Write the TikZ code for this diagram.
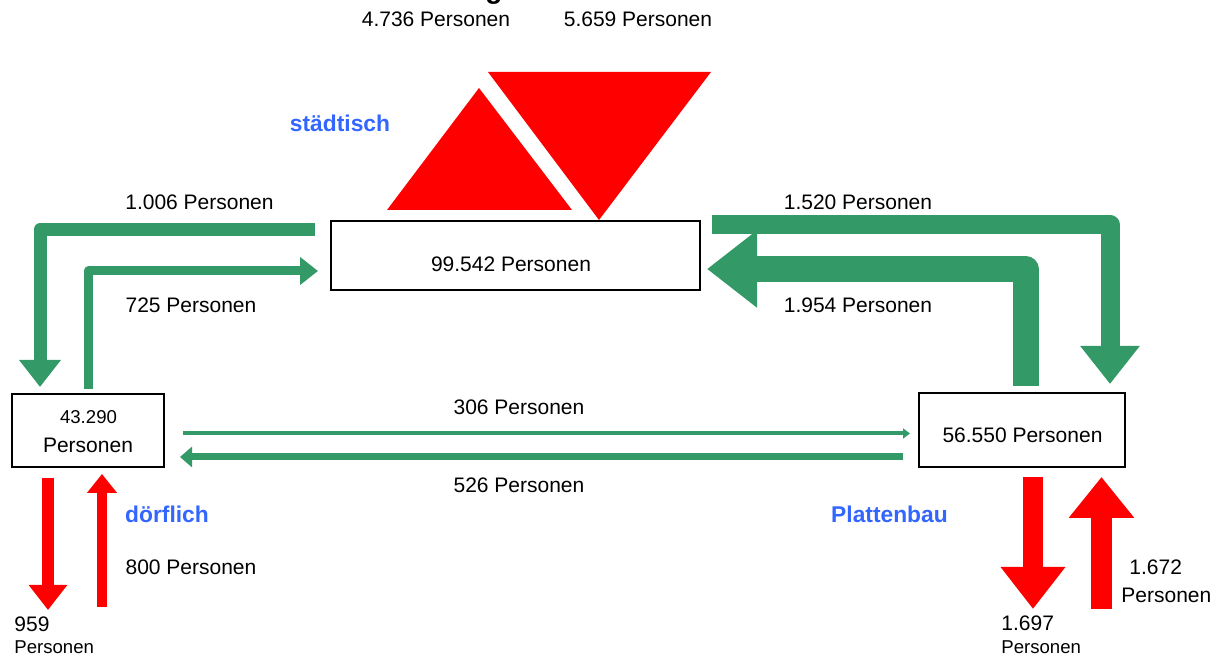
\documentclass[tikz,border=0pt]{standalone}
\usepackage{fontspec}
\setmainfont{Liberation Sans}
\usepackage{tikz}
\usetikzlibrary{arrows.meta, positioning, calc}
\definecolor{flowgreen}{RGB}{51,153,102}
\definecolor{tagblue}{RGB}{51,102,255}

\begin{document}
\begin{tikzpicture}[x=0.5pt, y=-0.5pt,
    box/.style={draw, line width=1pt, fill=white, inner sep=0pt, outer sep=0pt},
    txt/.style={font=\fontsize{10.5}{12}\selectfont, inner sep=0pt, anchor=base},
    smalltxt/.style={font=\fontsize{9.3}{11}\selectfont, inner sep=0pt, anchor=base},
    tag/.style={font=\fontsize{11.4}{13}\selectfont\bfseries, text=tagblue, inner sep=0pt, anchor=base},
    flow/.style={draw=flowgreen, line join=round},
    drop/.style={draw=red}]
  \useasboundingbox (0,0) rectangle (1223,657);

  % title, cut off at the top
  \node[font=\fontsize{14}{16}\selectfont\bfseries, inner sep=0pt, anchor=base] (title) at (494,-1) {g};

  % in- and outflow of the city
  \fill[red] (387,210) -- (572,210) -- (479,88) -- cycle;
  \fill[red] (488,72) -- (711,72) -- (599,220) -- cycle;

  \node[box, minimum width=184.5pt, minimum height=34.5pt] (stadt) at (515.5,255.5) {};
  \node[box, minimum width=76pt, minimum height=36.5pt] (dorf) at (88,430.5) {};
  \node[box, minimum width=103pt, minimum height=37pt] (platte) at (1022,430) {};

  \node[txt] (stadtnum) at ($(stadt.center)+(-4.5,16.5)$) {99.542 Personen};
  \node[txt] (plattenum) at ($(platte.center)+(0.5,13)$) {56.550 Personen};
  \node[smalltxt] (dorfnum) at ($(dorf.center)+(0.5,-6.5)$) {43.290};
  \node[txt] (dorfunit) at ($(dorf.center)+(0,22.5)$) {Personen};

  % moves between the areas
  \draw[flow, line width=6.5pt, -{Triangle[length=13.5pt, width=20pt]}]
    ($(stadt.north west)+(-16,8.5)$) -| ($(dorf.north west)+(28,-7)$);
  \draw[flow, line width=4.5pt, -{Triangle[length=9pt, width=13.5pt]}]
    ($(dorf.north)+(0.5,-5)$) |- ($(stadt.west)+(-13,15.5)$);
  \draw[flow, line width=9.5pt, -{Triangle[length=19pt, width=28.5pt]}]
    ($(stadt.north east)+(12,3.5)$) -| ($(platte.north east)+(-15,-9)$);
  \draw[flow, line width=13pt, -{Triangle[length=25pt, width=37pt]}]
    ($(platte.north)+(3.5,-7)$) |- ($(stadt.east)+(7,13.5)$);
  \draw[flow, line width=2pt, -{Triangle[length=3.5pt, width=5pt]}]
    ($(dorf.east)+(19,3)$) -- ($(platte.west)+(-9,3.5)$);
  \draw[flow, line width=3.5pt, -{Triangle[length=6pt, width=10pt]}]
    ($(platte.west)+(-16,27)$) -- ($(dorf.east)+(16,26.5)$);

  % moves in and out of the region
  \coordinate (dorfout) at (48,610);
  \coordinate (dorfin) at (102,607);
  \coordinate (platteout) at (1033,609);
  \coordinate (plattein) at (1101.5,609);
  \draw[drop, line width=6pt, -{Triangle[length=12.5pt, width=18.5pt]}]
    ($(dorf.south west)+(36,11)$) -- (dorfout);
  \draw[drop, line width=5pt, -{Triangle[length=9.5pt, width=14.5pt]}]
    (dorfin) -- ($(dorf.south west)+(90,7)$);
  \draw[drop, line width=10pt, -{Triangle[length=21pt, width=31pt]}]
    ($(platte.south)+(11,10)$) -- (platteout);
  \draw[drop, line width=10.5pt, -{Triangle[length=20.5pt, width=31.5pt]}]
    (plattein) -- ($(platte.south)+(79.5,10)$);

  % labels
  \foreach \n/\x/\y/\t in {stadtin/436/27/{4.736 Personen}, stadtout/638/27/{5.659 Personen},
                           fa/199.5/210/{1.006 Personen}, fb/191/313/{725 Personen},
                           fc/858/210/{1.520 Personen}, fd/858/313/{1.954 Personen},
                           fe/519/415/{306 Personen}, ff/519/493/{526 Personen},
                           fg/191/575/{800 Personen}}
    \node[txt] (\n) at (\x,\y) {\t};
  \node[tag] (tagstadt) at (340,132) {städtisch};
  \node[tag] (tagdorf) at (167,523) {dörflich};
  \node[tag] (tagplatte) at (889.5,523) {Plattenbau};

  \node[txt, anchor=base west] (dorfoutnum) at (14,632) {959};
  \node[smalltxt, anchor=base west] (dorfoutunit) at ([yshift=-11pt]dorfoutnum.base west) {Personen};
  \node[txt, anchor=base west] (platteoutnum) at (1001,631) {1.697};
  \node[smalltxt, anchor=base west] (platteoutunit) at ([yshift=-11.5pt]platteoutnum.base west) {Personen};
  \node[txt, anchor=base west] (platteinnum) at (1129,575) {1.672};
  \node[txt, anchor=base west] (platteinunit) at (1121,603) {Personen};
\end{tikzpicture}
\end{document}
